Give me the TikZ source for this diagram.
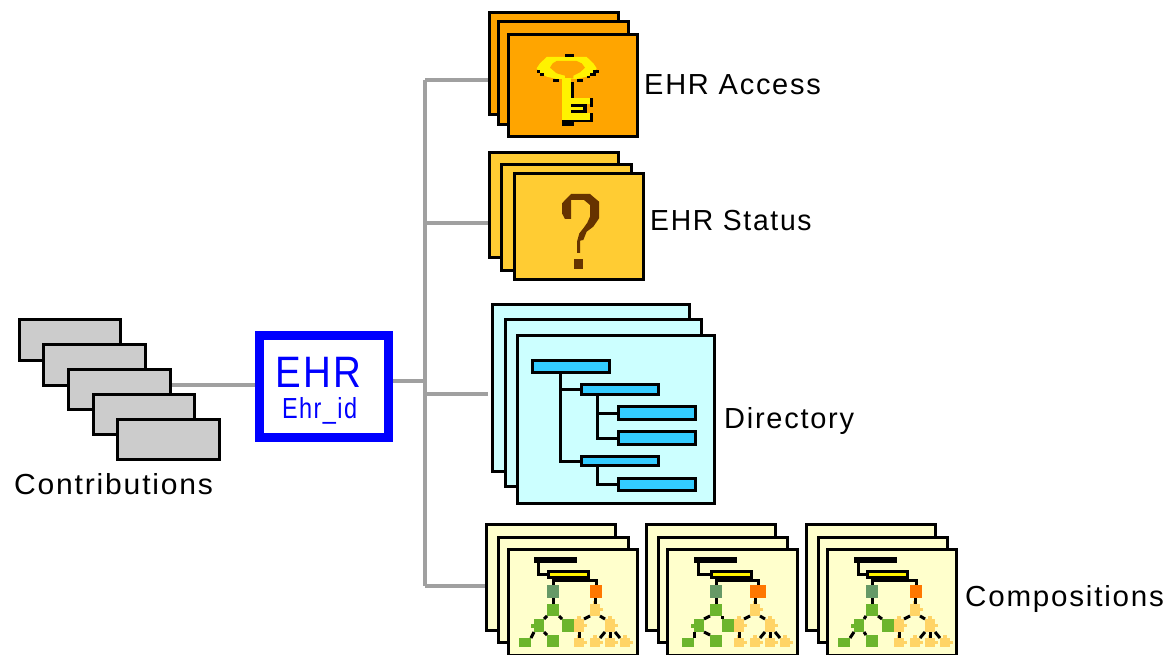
\documentclass[tikz,border=0pt]{standalone}
\usepackage{fontspec}
\newfontfamily\labelfont[LetterSpace=6]{Liberation Sans}
\usetikzlibrary{positioning}

\definecolor{contribgray}{HTML}{CCCCCC}
\definecolor{linkgray}{HTML}{A0A0A0}
\definecolor{ehrblue}{HTML}{0000FF}
\definecolor{accessorange}{HTML}{FFA500}
\definecolor{statusyellow}{HTML}{FFCC33}
\definecolor{questionbrown}{HTML}{663300}
\definecolor{dircyan}{HTML}{CCFFFF}
\definecolor{dirblue}{HTML}{33CCFF}
\definecolor{compcream}{HTML}{FFFFCC}
\definecolor{nodegreen}{HTML}{669966}
\definecolor{nodeorange}{HTML}{FF7700}
\definecolor{leafgreen}{HTML}{6CB52D}
\definecolor{leaflight}{HTML}{FFD466}

\tikzset{
  card/.style={draw=black, line width=3pt, inner sep=0pt, outer sep=1.5pt},
  link/.style={draw=linkgray, line width=3.4pt},
  treeline/.style={draw=black, line width=3pt},
  caption/.style={inner sep=0pt, anchor=base west, transform shape, font=\labelfont\fontsize{29}{29}\selectfont},
  ehrtext/.style={inner sep=0pt, anchor=base west, transform shape, text=ehrblue},
  leaf/.style={inner sep=0pt, outer sep=0pt}
}

% name, left, top, right, bottom (outer edges), fill
\newcommand{\stackcard}[6]{
  \node[card, fill=#6, minimum width={(#4-#2-3)*1pt}, minimum height={(#5-#3-3)*1pt}]
    (#1) at ({(#2+#4)/2},{(#3+#5)/2}) {};
}
% name, left, top, right, bottom, fill
\newcommand{\leafnode}[6]{
  \node[leaf, fill=#6, minimum width={(#4-#2)*1pt}, minimum height={(#5-#3)*1pt}]
    (#1) at ({(#2+#4)/2},{(#3+#5)/2}) {};
}
% prefix, shift, orange width, header shift
\newcommand{\comptree}[4]{
  \begin{scope}[xshift=#2pt]
    % Header bars
    \leafnode{#1top}{534}{557}{577}{563}{black}
    \node[card, fill=yellow, minimum width=40pt, minimum height=6pt] (#1head) at ({568.5+#4},574.5) {};
    \draw[treeline] ([xshift=-17.5pt]#1top.south) |- (#1head.west);

    % Squares under the header
    \leafnode{#1sqa}{(547+#4)}{585}{(559+#4)}{598}{nodegreen}
    \leafnode{#1sqb}{590}{585}{(590+#3)}{598}{nodeorange}
    \draw[treeline] (#1sqa.north |- #1head.south) -- (#1sqa.north);
    \draw[treeline] ([yshift=-1.5pt]#1sqa.north |- #1head.south) -| (#1sqb.north);

    % Green leaves
    \leafnode{#1ga}{(547+#4)}{604}{(559+#4)}{616}{leafgreen}
    \leafnode{#1gb}{534}{619}{544}{632}{leafgreen}
    \leafnode{#1gc}{562}{619}{574}{632}{leafgreen}
    \leafnode{#1gd}{(519+#4)}{638}{(531+#4)}{647}{leafgreen}
    \leafnode{#1ge}{(547+#4)}{635}{(559+#4)}{647}{leafgreen}
    \fill[leafgreen] (531,624) rectangle (534,628);

    % Light leaves
    \leafnode{#1la}{590}{604}{600}{616}{leaflight}
    \leafnode{#1lb}{574}{619}{584}{632}{leaflight}
    \leafnode{#1lc}{605}{619}{615}{632}{leaflight}
    \leafnode{#1ld}{574}{638}{584}{647}{leaflight}
    \leafnode{#1le}{590}{638}{600}{647}{leaflight}
    \leafnode{#1lf}{605}{638}{615}{647}{leaflight}
    \leafnode{#1lg}{620}{638}{630}{647}{leaflight}
    \foreach \nub in {la,lb,lc,ld,le,lf,lg} {
      \fill[leaflight] ([yshift=2pt]#1\nub.east) rectangle ++(3,3);
      \fill[leaflight] ([xshift=-2pt]#1\nub.north) rectangle ++(4,-3);
    }

    % Tree edges
    \draw[treeline] (#1sqa.south) -- (#1sqa.south |- #1ga.north);
    \draw[treeline] (#1sqb.south -| #1la.north) -- (#1la.north);
    \draw[treeline] (#1ga.south west) -- (#1gb.north east);
    \draw[treeline] (#1ga.south east) -- (#1gc.north west);
    \draw[treeline] (#1gb.south west) -- (#1gd.north east);
    \draw[treeline] (#1gb.south east) -- (#1ge.north west);
    \draw[treeline] (#1la.south west) -- (#1lb.north east);
    \draw[treeline] (#1la.south east) -- (#1lc.north west);
    \draw[treeline] (#1lb.south) -- (#1ld.north);
    \draw[treeline] (#1lc.south west) -- (#1le.north east);
    \draw[treeline] (#1lc.south) -- (#1lf.north);
    \draw[treeline] (#1lc.south east) -- (#1lg.north west);
  \end{scope}
}

\begin{document}
\begin{tikzpicture}[x=1pt, y=-1pt]

    \useasboundingbox (0,0) rectangle (1169,655);

    %% Contributions
    \stackcard{conta}{18}{318}{122}{362}{contribgray}
    \stackcard{contb}{42}{343}{147}{387}{contribgray}
    \stackcard{contc}{67}{368}{172}{411}{contribgray}
    \stackcard{contd}{92}{393}{196}{436}{contribgray}
    \stackcard{conte}{116}{418}{221}{461}{contribgray}
    \node[caption, xscale=1.037] (contlabel) at (14,494) {Contributions};

    %% EHR box
    \node[draw=ehrblue, line width=9pt, fill=white, inner sep=0pt, outer sep=4.5pt,
          minimum width=129pt, minimum height=102pt] (ehr) at (324,386.5) {};
    \node[ehrtext, xscale=.875, font=\labelfont\fontsize{44}{44}\selectfont] (ehrname) at (275,387) {EHR};
    \node[ehrtext, xscale=.81, font=\labelfont\fontsize{29}{29}\selectfont] (ehrid) at (282,418) {Ehr\_id};

    %% EHR Access
    \stackcard{acca}{488}{11}{620}{116}{accessorange}
    \stackcard{accb}{497}{20}{630}{126}{accessorange}
    \stackcard{accc}{507}{33}{639}{138}{accessorange}
    \node[caption] (acclabel) at (644,95) {EHR Access};

    % Key
    \begin{scope}[shift={(530,45)}, scale=1/3]
        \fill[yellow] (50,36) -- (170,36) -- (190,55) -- (200,70) -- (190,85) -- (170,95)
            -- (140,102) -- (80,102) -- (50,95) -- (30,85) -- (20,70) -- (30,55) -- cycle;
        \fill[accessorange] (80,48) -- (140,48) -- (155,55) -- (165,68) -- (150,82) -- (130,92)
            -- (130,100) -- (105,100) -- (105,92) -- (80,85) -- (60,68) -- (68,55) -- cycle;
        \fill[yellow] (96,100) rectangle (123,225);
        \fill[yellow] (123,158) rectangle (180,178);
        \fill[yellow] (123,185) rectangle (160,195);
        \fill[yellow] (123,203) rectangle (180,225);
        \fill[black] (105,27) rectangle (132,36);
        \fill[black] (123,110) rectangle (132,158);
        \fill[black] (180,158) rectangle (189,185);
        \fill[black] (123,178) rectangle (170,185);
        \fill[black] (160,185) rectangle (170,203);
        \fill[black] (123,195) rectangle (170,203);
        \fill[black] (180,203) rectangle (189,232);
        \fill[black] (123,225) rectangle (189,232);
        \fill[black] (96,225) rectangle (132,242);
        \fill[black] (68,102) rectangle (87,110);
        \fill[black] (141,102) rectangle (159,110);
        \fill[black] (20,75) rectangle (30,84);
        \fill[black] (30,84) rectangle (42,92);
        \fill[black] (180,84) rectangle (198,92);
        \fill[black] (190,75) rectangle (207,84);
        \fill[black] (170,92) rectangle (180,100);
    \end{scope}

    %% EHR Status
    \stackcard{stata}{488}{151}{620}{259}{statusyellow}
    \stackcard{statb}{500}{163}{633}{272}{statusyellow}
    \stackcard{statc}{513}{172}{645}{281}{statusyellow}
    \node[caption, xscale=.976] (statlabel) at (650,230) {EHR Status};

    % Question mark
    \begin{scope}[shift={(480,0)}, scale=1/3]
        \fill[questionbrown] (246,610) -- (265,590) -- (273,582) -- (330,582) -- (357,605)
            -- (357,655) -- (340,680) -- (320,695) -- (310,720) -- (300,722) -- (300,759)
            -- (291,759) -- (291,725) -- (298,700) -- (310,685) -- (322,668) -- (330,650)
            -- (330,615) -- (312,600) -- (273,600) -- (273,657)
            -- (255,657) -- (246,640) -- cycle;
        \fill[questionbrown] (282,777) rectangle (309,806);
    \end{scope}

    %% Directory
    \stackcard{dira}{491}{303}{691}{473}{dircyan}
    \stackcard{dirb}{504}{318}{703}{488}{dircyan}
    \stackcard{dirc}{516}{334}{716}{505}{dircyan}
    \node[caption] (dirlabel) at (724,428) {Directory};

    % Folder bars
    \stackcard{bara}{531}{359}{611}{374}{dirblue}
    \stackcard{barb}{580}{383}{660}{396}{dirblue}
    \stackcard{barc}{617}{405}{697}{421}{dirblue}
    \stackcard{bard}{617}{430}{697}{446}{dirblue}
    \stackcard{bare}{580}{455}{660}{467}{dirblue}
    \stackcard{barf}{617}{477}{697}{492}{dirblue}
    \draw[treeline] ([xshift=-11pt]bara.south) |- (barb.west);
    \draw[treeline] ([xshift=-11pt]bara.south) |- (bare.west);
    \draw[treeline] ([xshift=-23pt]barb.south) |- (barc.west);
    \draw[treeline] ([xshift=-23pt]barb.south) |- (bard.west);
    \draw[treeline] ([xshift=-23pt]bare.south) |- (barf.west);

    %% Compositions
    \stackcard{compaa}{485}{523}{617}{632}{compcream}
    \stackcard{compab}{497}{536}{630}{644}{compcream}
    \stackcard{compac}{507}{548}{639}{656.5}{compcream}
    \comptree{a}{0}{12}{0}

    \stackcard{compba}{645}{523}{777}{632}{compcream}
    \stackcard{compbb}{657}{536}{789}{644}{compcream}
    \stackcard{compbc}{666}{548}{799}{656.5}{compcream}
    \comptree{b}{160}{16}{3}

    \stackcard{compca}{805}{523}{937}{632}{compcream}
    \stackcard{compcb}{817}{536}{949}{644}{compcream}
    \stackcard{compcc}{826}{548}{958}{656.5}{compcream}
    \comptree{c}{320}{12}{-1}
    \node[caption, xscale=1.02] (complabel) at (965,606) {Compositions};

    %% Links
    \coordinate (tapacc) at (425,80);
    \coordinate (tapstat) at (425,223);
    \coordinate (tapdir) at (425,394);
    \coordinate (tapcomp) at (425,586);
    \coordinate (hub) at (425,381);
    \draw[link] ([yshift=1.5pt]ehr.west) -- ([yshift=1.5pt]ehr.west -| contc.east);
    \draw[link] (hub) -- (hub -| ehr.east);
    \draw[link] (tapacc) -- (tapcomp);
    \draw[link] (tapacc) -- (tapacc -| acca.west);
    \draw[link] (tapstat) -- (tapstat -| stata.west);
    \draw[link, shorten >=3pt] (tapdir) -- (tapdir -| dira.west);
    \draw[link] (tapcomp) -- (tapcomp -| compaa.west);

\end{tikzpicture}
\end{document}
